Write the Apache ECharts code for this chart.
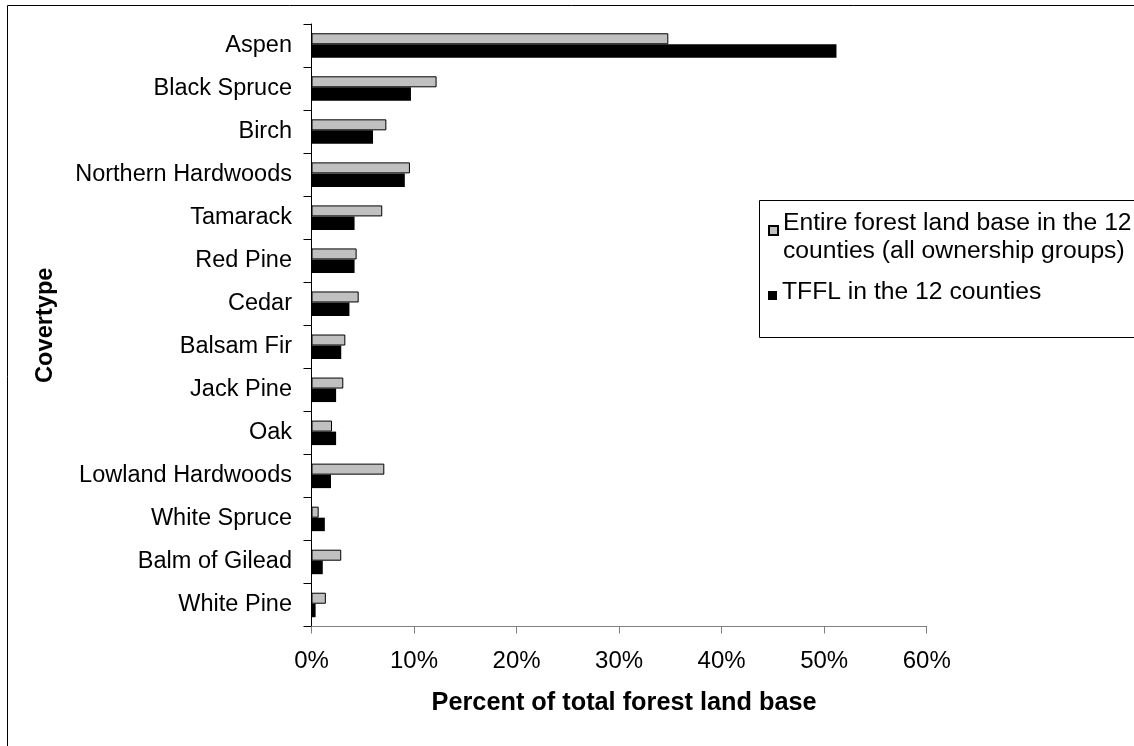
<!DOCTYPE html>
<html>
<head>
<meta charset="utf-8">
<script src="https://cdn.jsdelivr.net/npm/echarts@6/dist/echarts.min.js"></script>
<style>
html,body{margin:0;padding:0;background:#fff;}
#chart{width:1134px;height:746px;}
</style>
</head>
<body>
<div id="chart"></div>
<script>
var categories = ['Aspen','Black Spruce','Birch','Northern Hardwoods','Tamarack','Red Pine','Cedar','Balsam Fir','Jack Pine','Oak','Lowland Hardwoods','White Spruce','Balm of Gilead','White Pine'];
var entireValues = [34.8, 12.2, 7.3, 9.6, 6.9, 4.4, 4.6, 3.3, 3.1, 2.0, 7.1, 0.7, 2.9, 1.4];
var tfflValues = [51.2, 9.7, 6.0, 9.1, 4.2, 4.2, 3.7, 2.9, 2.4, 2.4, 1.9, 1.3, 1.1, 0.4];
var seriesNames = ['Entire forest land base in the 12 counties (all ownership groups)', 'TFFL in the 12 counties'];
var legendLines = [['Entire forest land base in the 12', 'counties (all ownership groups)'], ['TFFL in the 12 counties']];
var xTicks = {min: 0, max: 60, interval: 10};
var xTitle = 'Percent of total forest land base';
var yTitle = 'Covertype';

var FONT = '"Liberation Sans", Arial, sans-serif';
var richLegend = {
  a: {fontFamily: FONT, fontSize: 24.7, color: '#000', lineHeight: 28},
  top: {fontSize: 1, lineHeight: 14},
  bot: {fontSize: 1, lineHeight: 6}
};
var chart = echarts.init(document.getElementById('chart'), null, {renderer: 'canvas'});
chart.setOption({
  animation: false,
  backgroundColor: '#fff',
  textStyle: {fontFamily: FONT, color: '#000'},
  grid: {left: 311.5, right: 207.3, top: 24, bottom: 119.5, containLabel: false},
  graphic: [
    {type: 'rect', silent: true, z: -1, shape: {x: 7.5, y: 5.5, width: 1200, height: 800}, style: {fill: null, stroke: '#000', lineWidth: 1}},
    {type: 'rect', silent: true, z: -1, shape: {x: 759.5, y: 200.5, width: 400, height: 137}, style: {fill: '#fff', stroke: '#000', lineWidth: 1}}
  ],
  legend: [
    {
      data: [seriesNames[0]], left: 768, top: 202, padding: 0, selectedMode: false,
      icon: 'rect', itemWidth: 9, itemHeight: 9,
      formatter: function () {
        return '{top| }\n' + legendLines[0].map(function (s) { return '{a|' + s + '}'; }).join('\n');
      },
      textStyle: {fontFamily: FONT, fontSize: 24.7, color: '#000', rich: richLegend}
    },
    {
      data: [seriesNames[1]], left: 768, top: 280, padding: 0, selectedMode: false,
      icon: 'rect', itemWidth: 9, itemHeight: 9,
      formatter: function () {
        return legendLines[1].map(function (s) { return '{a|' + s + '}'; }).join('\n') + '\n{bot| }';
      },
      textStyle: {fontFamily: FONT, fontSize: 24.7, color: '#000', rich: richLegend}
    }
  ],
  xAxis: {
    type: 'value', min: xTicks.min, max: xTicks.max, interval: xTicks.interval,
    splitLine: {show: false},
    axisLine: {show: true, lineStyle: {color: '#808080', width: 1}},
    axisTick: {show: true, length: 7, lineStyle: {color: '#808080'}},
    axisLabel: {formatter: '{value}%', fontSize: 24, color: '#000', margin: 23, fontFamily: FONT},
    name: xTitle, nameLocation: 'middle', nameGap: 64,
    nameTextStyle: {fontSize: 25.3, fontWeight: 'bold', color: '#000', fontFamily: FONT, padding: [0, 0, 0, 10]}
  },
  yAxis: {
    type: 'category', data: categories, inverse: true,
    axisLine: {show: true, lineStyle: {color: '#000', width: 1}},
    axisTick: {show: true, length: 8, lineStyle: {color: '#000'}},
    axisLabel: {fontSize: 23.5, color: '#000', margin: 19.5, fontFamily: FONT},
    name: yTitle, nameLocation: 'middle', nameGap: 254, nameRotate: 90,
    nameTextStyle: {fontSize: 23.6, fontWeight: 'bold', color: '#000', fontFamily: FONT}
  },
  series: [
    {
      name: seriesNames[0], type: 'bar', data: entireValues, barWidth: 11, barGap: '0%',
      itemStyle: {color: '#c0c0c0', borderColor: '#000', borderWidth: 1}
    },
    {
      name: seriesNames[1], type: 'bar', data: tfflValues, barWidth: 13.5, barGap: '0%',
      itemStyle: {color: '#000'}
    }
  ]
});
</script>
</body>
</html>
